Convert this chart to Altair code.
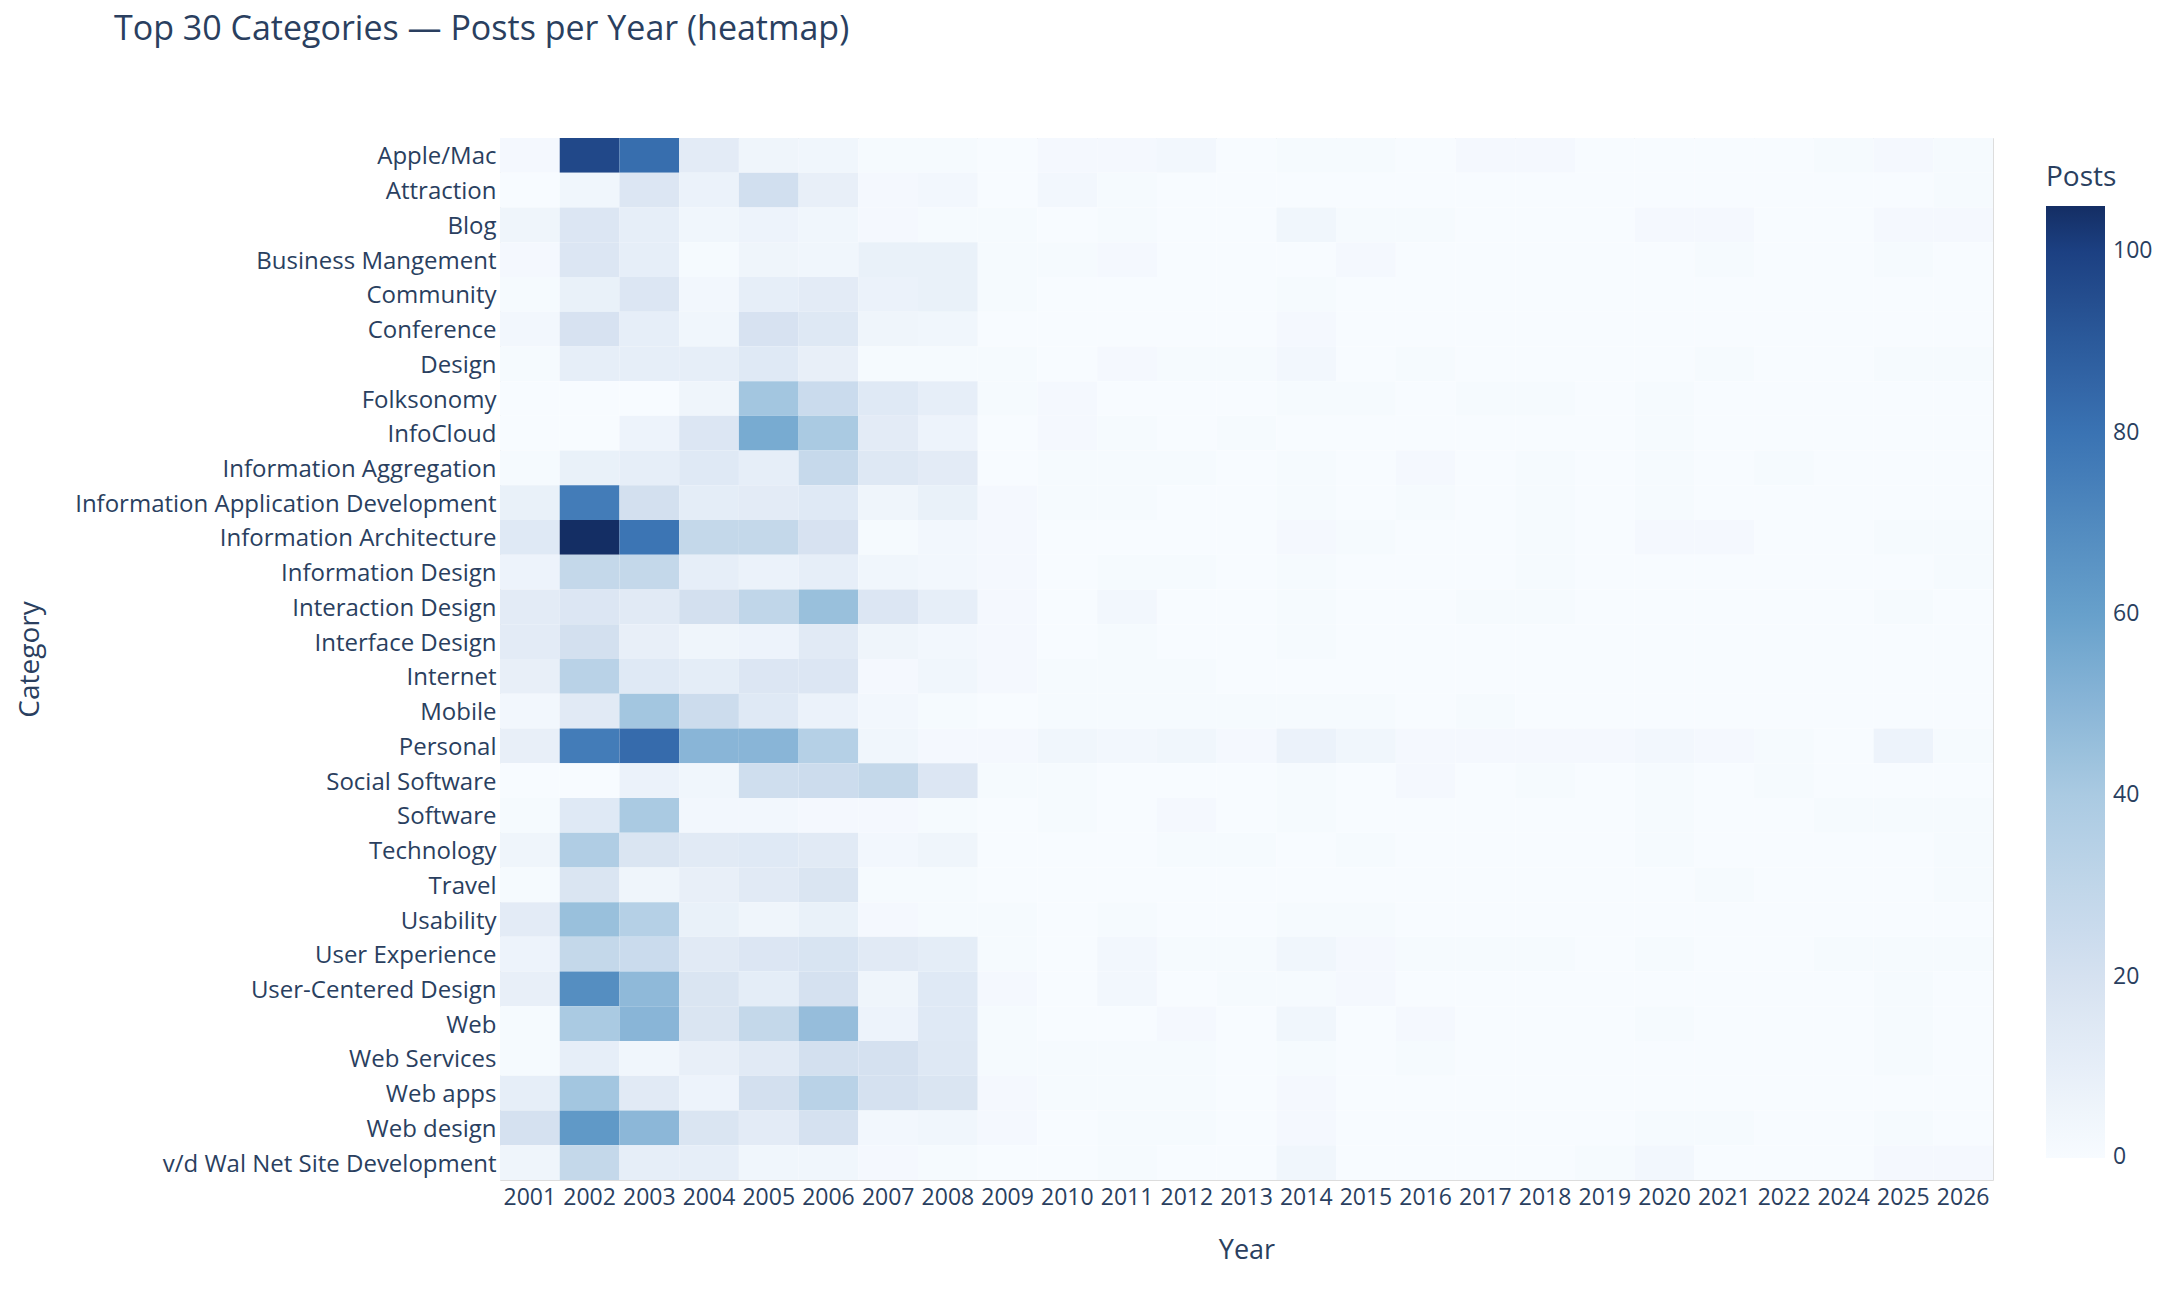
import altair as alt
import pandas as pd

years = ["2001", "2002", "2003", "2004", "2005", "2006", "2007", "2008", "2009",
         "2010", "2011", "2012", "2013", "2014", "2015", "2016", "2017", "2018",
         "2019", "2020", "2021", "2022", "2024", "2025", "2026"]

categories = ["Apple/Mac", "Attraction", "Blog", "Business Mangement", "Community",
              "Conference", "Design", "Folksonomy", "InfoCloud", "Information Aggregation",
              "Information Application Development", "Information Architecture",
              "Information Design", "Interaction Design", "Interface Design", "Internet",
              "Mobile", "Personal", "Social Software", "Software", "Technology", "Travel",
              "Usability", "User Experience", "User-Centered Design", "Web", "Web Services",
              "Web apps", "Web design", "v/d Wal Net Site Development"]

apple_mac = [2, 97, 82, 12, 5, 4, 1, 1, 0, 2, 2, 3, 0, 1, 1, 0, 2, 2, 0, 0, 0, 0, 1, 2, 1]
attraction = [0, 4, 16, 7, 22, 9, 2, 3, 0, 3, 1, 0, 0, 0, 0, 0, 0, 0, 0, 0, 0, 0, 0, 0, 1]
blog = [5, 16, 10, 4, 6, 4, 2, 1, 1, 0, 1, 0, 0, 4, 1, 1, 0, 0, 0, 2, 2, 0, 0, 2, 2]
business_mangement = [2, 16, 10, 1, 5, 4, 8, 8, 1, 1, 2, 0, 0, 0, 2, 0, 0, 0, 0, 0, 1, 0, 0, 1, 0]
community = [1, 8, 16, 3, 10, 12, 7, 8, 1, 0, 0, 0, 0, 1, 0, 0, 0, 0, 0, 0, 0, 0, 0, 0, 0]
conference = [3, 19, 10, 4, 19, 15, 5, 4, 0, 0, 0, 0, 0, 2, 0, 0, 0, 0, 0, 0, 0, 0, 0, 0, 0]
design = [1, 10, 10, 10, 14, 9, 1, 1, 1, 0, 2, 1, 1, 3, 0, 1, 0, 0, 0, 0, 1, 0, 0, 1, 1]
folksonomy = [0, 0, 0, 5, 42, 25, 14, 10, 1, 2, 0, 0, 0, 1, 1, 0, 1, 1, 0, 1, 0, 0, 0, 0, 0]
infocloud = [0, 0, 6, 16, 55, 40, 12, 6, 0, 2, 1, 0, 1, 0, 0, 0, 0, 0, 0, 1, 0, 0, 0, 0, 0]
information_aggregation = [1, 8, 10, 14, 10, 27, 15, 12, 0, 1, 1, 1, 0, 1, 0, 2, 0, 1, 0, 1, 0, 1, 0, 0, 0]
information_application_development = [8, 76, 21, 11, 12, 14, 5, 8, 2, 1, 1, 0, 0, 1, 0, 1, 0, 1, 0, 1, 0, 0, 0, 0, 0]
information_architecture = [14, 105, 79, 28, 28, 19, 1, 3, 2, 0, 0, 0, 0, 2, 1, 0, 0, 1, 0, 2, 2, 0, 0, 1, 1]
information_design = [6, 28, 28, 10, 7, 10, 4, 3, 2, 0, 1, 1, 0, 1, 0, 0, 0, 1, 0, 0, 0, 0, 0, 0, 1]
interaction_design = [12, 16, 13, 21, 30, 45, 16, 10, 2, 0, 3, 0, 0, 1, 0, 0, 1, 1, 0, 0, 0, 0, 0, 1, 0]
interface_design = [12, 21, 9, 5, 6, 13, 5, 3, 2, 0, 1, 0, 0, 1, 0, 0, 0, 0, 0, 0, 0, 0, 0, 0, 0]
internet = [9, 33, 14, 11, 16, 16, 2, 4, 2, 1, 1, 1, 0, 0, 0, 0, 0, 0, 0, 0, 0, 0, 0, 0, 0]
mobile = [3, 13, 42, 24, 14, 7, 3, 1, 0, 1, 1, 1, 1, 1, 1, 0, 1, 0, 0, 0, 0, 0, 0, 0, 0]
personal = [9, 76, 83, 50, 50, 35, 4, 2, 2, 4, 3, 4, 2, 7, 4, 2, 2, 2, 2, 3, 2, 1, 0, 6, 1]
social_software = [0, 0, 7, 4, 23, 24, 28, 16, 1, 1, 0, 0, 0, 1, 0, 2, 0, 1, 0, 1, 0, 1, 0, 0, 0]
software = [1, 14, 40, 3, 3, 2, 2, 1, 0, 1, 0, 2, 0, 1, 0, 0, 0, 0, 0, 1, 0, 0, 1, 1, 1]
technology = [5, 37, 17, 13, 14, 13, 3, 5, 0, 0, 0, 1, 1, 0, 1, 0, 0, 0, 0, 1, 0, 0, 0, 0, 1]
travel = [1, 17, 5, 9, 13, 17, 1, 1, 0, 0, 0, 0, 0, 0, 0, 0, 0, 0, 0, 0, 1, 0, 0, 0, 1]
usability = [12, 45, 35, 8, 5, 8, 2, 1, 1, 0, 1, 0, 0, 1, 1, 0, 0, 0, 0, 0, 0, 0, 0, 0, 0]
user_experience = [6, 28, 25, 13, 16, 18, 13, 11, 1, 0, 3, 1, 1, 4, 2, 1, 1, 1, 0, 1, 0, 0, 1, 1, 1]
user_centered_design = [9, 68, 48, 17, 11, 20, 5, 14, 2, 0, 3, 0, 1, 1, 2, 0, 0, 0, 0, 0, 0, 0, 0, 1, 0]
web = [1, 40, 50, 17, 28, 46, 6, 14, 1, 0, 0, 2, 0, 4, 0, 2, 0, 0, 0, 1, 0, 0, 0, 1, 0]
web_services = [1, 10, 4, 9, 13, 21, 20, 15, 1, 1, 1, 1, 0, 1, 0, 1, 0, 0, 0, 0, 0, 0, 0, 1, 0]
web_apps = [10, 42, 13, 6, 21, 33, 20, 17, 2, 1, 1, 1, 0, 2, 0, 0, 0, 0, 0, 0, 0, 0, 0, 0, 0]
web_design = [20, 63, 49, 17, 12, 20, 3, 4, 2, 0, 1, 1, 0, 2, 0, 0, 0, 0, 0, 1, 1, 0, 0, 1, 0]
vdwal_net_site_development = [5, 28, 10, 10, 4, 4, 2, 1, 0, 0, 1, 0, 0, 4, 0, 0, 0, 0, 1, 3, 0, 0, 0, 2, 2]

rows = [apple_mac, attraction, blog, business_mangement, community, conference, design,
        folksonomy, infocloud, information_aggregation, information_application_development,
        information_architecture, information_design, interaction_design, interface_design,
        internet, mobile, personal, social_software, software, technology, travel, usability,
        user_experience, user_centered_design, web, web_services, web_apps, web_design,
        vdwal_net_site_development]

records = []
for cat, vals in zip(categories, rows):
    for yr, v in zip(years, vals):
        records.append({"Category": cat, "Year": yr, "Posts": v})
df = pd.DataFrame(records)

color_domain = [0, 20, 40, 60, 80, 100, 105]
color_range = ["#f7fbff", "#d5e1f0", "#aacae2", "#67a0cb", "#3a73b3", "#1c4082", "#142e64"]
legend_values = [0.1, 20, 40, 60, 80, 100]

FONT = "Open Sans"
TXT = "#2a3f5f"

chart = alt.Chart(df).mark_rect(strokeWidth=0).encode(
    x=alt.X("Year:O", sort=years,
            scale=alt.Scale(paddingInner=0, paddingOuter=0),
            axis=alt.Axis(title="Year", labelAngle=0, ticks=False, domain=False, grid=False,
                          labelFontSize=23, labelPadding=6, labelFont=FONT, labelColor=TXT,
                          titleFont=FONT, titleFontSize=27, titleFontWeight="normal",
                          titleColor=TXT, titleY=70, titleBaseline="middle")),
    y=alt.Y("Category:N", sort=categories,
            scale=alt.Scale(paddingInner=0, paddingOuter=0),
            axis=alt.Axis(title="Category", ticks=False, domain=False, grid=False,
                          labelFontSize=24, labelPadding=4, labelLimit=700, labelOffset=2,
                          labelFont=FONT, labelColor=TXT, labelBaseline="middle",
                          titleFont=FONT, titleFontSize=28, titleFontWeight="normal",
                          titleColor=TXT, titleX=-470, titleY=521, titleAngle=270,
                          titleAlign="center", titleBaseline="middle")),
    color=alt.Color("Posts:Q",
                    scale=alt.Scale(domain=color_domain, range=color_range, interpolate="rgb"),
                    legend=alt.Legend(title="Posts", orient="none", legendX=1546, legendY=26,
                                      gradientLength=952, gradientThickness=59,
                                      titleFont=FONT, titleFontSize=28, titleFontWeight="normal",
                                      titleColor=TXT, titlePadding=14, titleBaseline="top",
                                      labelFont=FONT, labelFontSize=23, labelColor=TXT,
                                      labelOffset=8, labelBaseline="middle",
                                      values=legend_values,
                                      labelExpr="datum.value < 1 ? '0' : format(datum.value, 'd')",
                                      gradientStrokeWidth=0)),
    tooltip=["Category", "Year", "Posts"],
).properties(
    width=1493, height=1042,
    autosize=alt.AutoSizeParams(type="none"),
    padding={"left": 500, "top": 138, "right": 165, "bottom": 118},
    title=alt.TitleParams(text="Top 30 Categories — Posts per Year (heatmap)",
                          anchor="start", frame="group", dx=-386, offset=91,
                          font=FONT, fontSize=34, fontWeight="normal", color=TXT),
).configure_view(stroke=None).configure(background="white")

chart.save("out.html", embed_options={"renderer": "svg", "actions": False})
